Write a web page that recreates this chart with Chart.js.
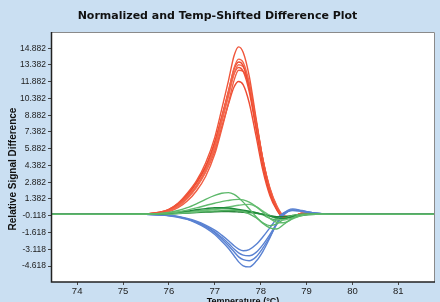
<!DOCTYPE html>
<html lang="en">
<head>
    <meta charset="UTF-8">
    <title>Normalized and Temp-Shifted Difference Plot</title>
    <style>
        body { margin: 0; background: #cadff2; }
        canvas { display: block; }
    </style>
</head>
<body>
    <canvas id="myChart" width="440" height="302"></canvas>
    <script src="https://cdn.jsdelivr.net/npm/chart.js"></script>
    <script>
        // temperatures (°C) where the curves were read
        const temps = [73.4, 74.5, 75.5, 75.8, 76.0, 76.2, 76.4, 76.6, 76.8, 77.0, 77.15, 77.3, 77.42, 77.52,
            77.62, 77.75, 77.9, 78.05, 78.2, 78.35, 78.5, 78.7, 78.9, 79.2, 79.6, 80.5, 81.8];

        // red group (positive peaks)
        const red1 = [0, 0, 0.05, 0.2, 0.45, 1.0, 1.9, 3.0, 4.6, 6.9, 9.4, 12.0, 14.2, 15.0, 14.5, 12.4, 8.6, 4.9, 2.2, 0.6, -0.3, -0.2, 0.1, 0.05, 0, 0, 0];
        const red2 = [0, 0, 0.04, 0.15, 0.35, 0.8, 1.6, 2.6, 4.0, 6.1, 8.5, 11.0, 13.1, 13.9, 13.6, 11.8, 8.4, 4.9, 2.3, 0.7, -0.2, -0.2, 0.1, 0.05, 0, 0, 0];
        const red3 = [0, 0, 0.04, 0.18, 0.4, 0.9, 1.7, 2.8, 4.2, 6.4, 8.7, 11.1, 13.0, 13.65, 13.3, 11.4, 7.9, 4.5, 2.0, 0.5, -0.3, -0.2, 0.05, 0.05, 0, 0, 0];
        const red4 = [0, 0, 0.03, 0.12, 0.3, 0.7, 1.4, 2.4, 3.8, 5.9, 8.2, 10.6, 12.6, 13.4, 13.2, 11.6, 8.3, 4.8, 2.3, 0.7, -0.2, -0.2, 0.1, 0, 0, 0, 0];
        const red5 = [0, 0, 0.05, 0.2, 0.45, 1.0, 1.8, 2.9, 4.3, 6.5, 8.7, 10.9, 12.6, 13.15, 12.8, 11.0, 7.6, 4.3, 1.9, 0.5, -0.3, -0.15, 0.05, 0, 0, 0, 0];
        const red6 = [0, 0, 0.03, 0.1, 0.25, 0.6, 1.2, 2.1, 3.4, 5.4, 7.6, 10.0, 12.0, 12.9, 12.8, 11.4, 8.3, 4.9, 2.4, 0.8, -0.1, -0.2, 0.1, 0.05, 0, 0, 0];
        const red7 = [0, 0, 0.04, 0.15, 0.35, 0.8, 1.5, 2.5, 3.8, 5.7, 7.8, 9.9, 11.4, 11.9, 11.6, 10.0, 7.0, 3.9, 1.7, 0.4, -0.3, -0.15, 0.05, 0, 0, 0, 0];

        // green group (small bumps)
        const green1 = [0, 0, 0.02, 0.08, 0.18, 0.35, 0.6, 0.95, 1.35, 1.7, 1.9, 1.95, 1.8, 1.5, 1.1, 0.5, -0.2, -0.8, -1.2, -1.3, -0.9, -0.3, 0, 0.05, 0, 0, 0];
        const green2 = [0, 0, 0.02, 0.06, 0.12, 0.22, 0.38, 0.58, 0.8, 1.0, 1.15, 1.25, 1.32, 1.35, 1.3, 1.1, 0.7, 0.2, -0.35, -0.7, -0.75, -0.4, -0.1, 0, 0, 0, 0];
        const green3 = [0, 0, 0.02, 0.05, 0.1, 0.2, 0.3, 0.42, 0.52, 0.6, 0.6, 0.58, 0.52, 0.45, 0.38, 0.28, 0.15, 0, -0.15, -0.3, -0.35, -0.2, -0.05, 0, 0, 0, 0];
        const green4 = [0, 0, 0.01, 0.03, 0.06, 0.1, 0.16, 0.24, 0.34, 0.46, 0.56, 0.66, 0.75, 0.82, 0.88, 0.9, 0.7, 0.3, -0.1, -0.4, -0.5, -0.3, -0.1, 0, 0, 0, 0];
        const green5 = [0, 0, 0.01, 0.04, 0.08, 0.14, 0.22, 0.32, 0.4, 0.46, 0.5, 0.5, 0.46, 0.38, 0.25, 0.05, -0.3, -0.75, -1.0, -0.85, -0.45, -0.1, 0, 0, 0, 0, 0];
        const green6 = [0, 0, 0.01, 0.03, 0.06, 0.1, 0.15, 0.2, 0.26, 0.3, 0.33, 0.35, 0.35, 0.33, 0.3, 0.25, 0.15, -0.05, -0.35, -0.5, -0.4, -0.15, 0, 0, 0, 0, 0];
        const green7 = [0, 0, 0.01, 0.02, 0.05, 0.08, 0.12, 0.17, 0.21, 0.24, 0.25, 0.25, 0.24, 0.22, 0.2, 0.16, 0.1, 0.02, -0.1, -0.2, -0.2, -0.1, 0, 0, 0, 0, 0];

        // blue group (negative troughs)
        const blue1 = [0, 0, 0, -0.03, -0.08, -0.18, -0.35, -0.6, -0.95, -1.4, -1.85, -2.35, -2.8, -3.1, -3.25, -3.15, -2.7, -2.0, -1.2, -0.4, 0.15, 0.35, 0.25, 0.1, 0, 0, 0];
        const blue2 = [0, 0, 0, -0.04, -0.1, -0.2, -0.4, -0.68, -1.05, -1.55, -2.05, -2.6, -3.1, -3.45, -3.65, -3.7, -3.4, -2.7, -1.8, -0.8, 0, 0.4, 0.3, 0.1, 0, 0, 0];
        const blue3 = [0, 0, 0, -0.04, -0.1, -0.22, -0.42, -0.72, -1.1, -1.65, -2.2, -2.8, -3.35, -3.8, -4.05, -4.15, -3.8, -3.0, -2.0, -0.9, -0.05, 0.4, 0.3, 0.1, 0, 0, 0];
        const blue4 = [0, 0, 0, -0.05, -0.12, -0.25, -0.45, -0.78, -1.2, -1.8, -2.4, -3.05, -3.7, -4.25, -4.6, -4.7, -4.2, -3.3, -2.1, -0.8, 0.1, 0.5, 0.35, 0.1, 0, 0, 0];

        // axis ticks
        const xTicks = [74, 75, 76, 77, 78, 79, 80, 81];
        const yTicks = [14.882, 13.382, 11.882, 10.382, 8.882, 7.382, 5.882, 4.382, 2.882, 1.382, -0.118, -1.618, -3.118, -4.618];
        const yTickLabels = ['14.882', '13.382', '11.882', '10.382', '8.882', '7.382', '5.882', '4.382', '2.882', '1.382', '-0.118', '-1.618', '-3.118', '-4.618'];

        const greens = [green1, green2, green3, green4, green5, green6, green7];
        const greenColors = ['#5cb86a', '#62bb6e', '#1f8a3a', '#6cc078', '#58b566', '#4fae5e', '#237f36'];
        const blues = [blue1, blue2, blue3, blue4];
        const reds = [red1, red2, red3, red4, red5, red6, red7];
        const redColors = ['#f0553a', '#f26448', '#ee4a30', '#f36b50', '#ef5237', '#f15d42', '#ee4c33'];

        function toPoints(ys) {
            return ys.map((y, i) => ({ x: temps[i], y: y }));
        }

        const datasets = [];
        greens.forEach((g, i) => datasets.push({ data: toPoints(g), borderColor: greenColors[i] }));
        blues.forEach(b => datasets.push({ data: toPoints(b), borderColor: '#5a82d2' }));
        reds.forEach((r, i) => datasets.push({ data: toPoints(r), borderColor: redColors[i] }));

        const font = 'Liberation Sans, Arial, sans-serif';

        const frame = {
            id: 'frame',
            beforeDraw(chart) {
                const c = chart.ctx, a = chart.chartArea;
                c.save();
                c.fillStyle = '#cadff2';
                c.fillRect(0, 0, chart.width, chart.height);
                c.fillStyle = '#ffffff';
                c.fillRect(a.left, a.top, a.right - a.left, a.bottom - a.top);
                c.restore();
            },
            afterDraw(chart) {
                const c = chart.ctx, a = chart.chartArea;
                c.save();
                c.lineWidth = 1;
                c.strokeStyle = '#8a8a8a';
                c.beginPath();
                c.moveTo(a.left, a.top + 0.5);
                c.lineTo(a.right - 0.5, a.top + 0.5);
                c.lineTo(a.right - 0.5, a.bottom);
                c.stroke();
                c.strokeStyle = '#222';
                c.lineWidth = 1.5;
                c.beginPath();
                c.moveTo(a.left + 0.5, a.top);
                c.lineTo(a.left + 0.5, a.bottom);
                c.lineTo(a.right, a.bottom);
                c.stroke();

                // axis titles
                c.fillStyle = '#111';
                c.font = 'bold 9px ' + font;
                c.textAlign = 'center';
                c.textBaseline = 'top';
                c.fillText('Temperature (°C)', 243, 297);
                c.translate(13, 169);
                c.rotate(-Math.PI / 2);
                c.textBaseline = 'middle';
                c.font = 'bold 10px ' + font;
                c.fillText('Relative Signal Difference', 0, 0);
                c.restore();
            }
        };

        new Chart(document.getElementById('myChart'), {
            type: 'line',
            data: { datasets: datasets },
            options: {
                responsive: false,
                animation: false,
                devicePixelRatio: 1,
                layout: { padding: { left: 0, right: 5, top: 0, bottom: 0 } },
                elements: {
                    point: { radius: 0 },
                    line: { borderWidth: 1.4, cubicInterpolationMode: 'monotone', fill: false }
                },
                plugins: {
                    legend: { display: false },
                    tooltip: { enabled: false },
                    title: {
                        display: true,
                        text: 'Normalized and Temp-Shifted Difference Plot',
                        color: '#111',
                        font: { family: 'DejaVu Sans, Verdana, sans-serif', size: 11, weight: 'bold' },
                        padding: { top: 10, bottom: 8.8 }
                    }
                },
                scales: {
                    x: {
                        type: 'linear',
                        min: 73.43,
                        max: 81.8,
                        afterBuildTicks: s => { s.ticks = xTicks.map(v => ({ value: v })); },
                        afterFit: s => { s.height = 20; },
                        border: { display: false },
                        grid: { drawOnChartArea: false, drawTicks: true, tickLength: 3, color: '#444' },
                        ticks: { color: '#222', font: { family: font, size: 9.5 }, padding: 1, maxRotation: 0 }
                    },
                    y: {
                        min: -6.05,
                        max: 16.33,
                        afterBuildTicks: s => { s.ticks = yTicks.map(v => ({ value: v })); },
                        afterFit: s => { s.width = 51; },
                        border: { display: false },
                        grid: { drawOnChartArea: false, drawTicks: true, tickLength: 3, color: '#444' },
                        ticks: {
                            color: '#222',
                            font: { family: font, size: 8.5 },
                            padding: 2,
                            callback: (v, i) => yTickLabels[i]
                        }
                    }
                }
            },
            plugins: [frame]
        });
    </script>
</body>
</html>
